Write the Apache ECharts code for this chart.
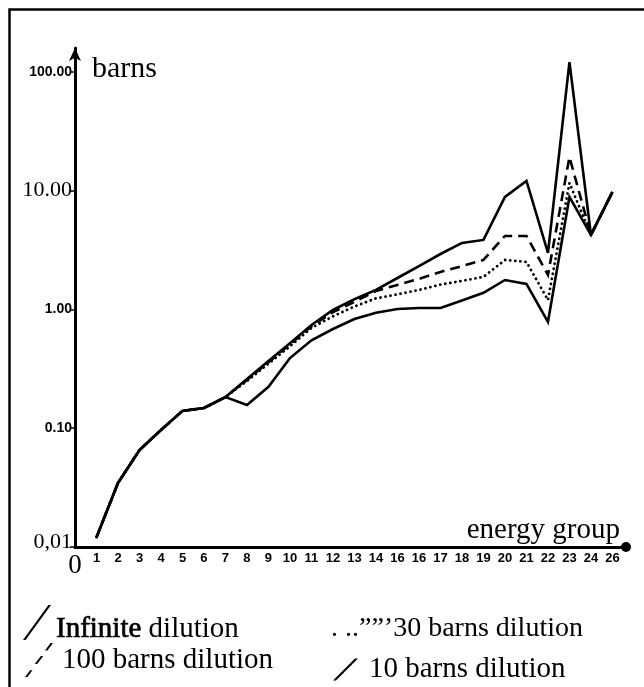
<!DOCTYPE html>
<html>
<head>
<meta charset="utf-8">
<script src="https://cdn.jsdelivr.net/npm/echarts@6/dist/echarts.min.js"></script>
<style>
html,body{margin:0;padding:0;background:#fff;}
#c{width:644px;height:687px;}
</style>
</head>
<body>
<div id="c"></div>
<script>
// energy groups
var groups = [1,2,3,4,5,6,7,8,9,10,11,12,13,14,15,16,17,18,19,20,21,22,23,24,25];
// cross sections (barns)
var infiniteDilution = [0.0121,0.0346,0.0656,0.0967,0.140,0.148,0.183,0.26,0.368,0.52,0.74,0.99,1.22,1.46,1.84,2.32,2.93,3.63,3.85,8.86,12.1,2.99,121,4.24,9.76];
var barns100Dilution = [0.0121,0.0346,0.0656,0.0967,0.140,0.148,0.183,0.255,0.36,0.51,0.72,0.95,1.16,1.43,1.61,1.81,2.07,2.32,2.61,4.16,4.16,1.95,19.2,4.24,9.76];
var barns30Dilution  = [0.0121,0.0346,0.0656,0.0967,0.140,0.148,0.183,0.25,0.35,0.49,0.70,0.875,1.06,1.24,1.34,1.46,1.62,1.74,1.88,2.61,2.51,1.20,11.6,4.24,9.76];
var barns10Dilution  = [0.0121,0.0346,0.0656,0.0967,0.140,0.148,0.183,0.157,0.223,0.39,0.55,0.685,0.83,0.94,1.01,1.03,1.03,1.19,1.38,1.77,1.64,0.785,8.86,4.24,9.76];
// tick labels
var xTickLabels = ['0','1','2','3','4','5','6','7','8','9','10','11','12','13','14','16','16','17','18','19','20','21','22','23','24','26'];
var yTickLabels = ['0,01','0.10','1.00','10.00','100.00'];
var yTickStyles = ['serif','sans','sans','serif','sans'];
var seriesNames = ['Infinite dilution','100 barns dilution','30 barns dilution','10 barns dilution'];

function pairs(vals){ return groups.map(function(g,i){ return [g, vals[i]]; }); }

var chart = echarts.init(document.getElementById('c'), null, {renderer:'canvas'});

var slashSolid = 'path://M0,35 L2.6,35 L28,0 L25.4,0 Z';
var slashDashed = 'path://M0,37 L2.6,37 L8.2,29.6 L5.6,29.6 Z M10.6,22.9 L13.2,22.9 L19.9,14.1 L17.3,14.1 Z M21.8,8.1 L24.4,8.1 L30.5,0 L27.9,0 Z';
var slashShort = 'path://M0,22 L3,22 L25,0 L22,0 Z';

var legendText = {fontFamily:'Liberation Serif', fontSize:29, color:'#000'};

var lineBase = {color:'#000', width:2.6, join:'miter', miterLimit:3};

chart.setOption({
  animation:false,
  backgroundColor:'#fff',
  grid:{left:75, right:18, top:48, bottom:140, containLabel:false},
  xAxis:{
    type:'value', min:0, max:25.63, interval:1,
    name:'energy group', nameLocation:'end', nameGap:-6,
    nameTextStyle:{fontFamily:'Liberation Serif', fontSize:29, color:'#000', align:'right', verticalAlign:'bottom', padding:[0,0,2,0]},
    axisLine:{show:true, onZero:false, lineStyle:{color:'#000', width:3}, symbol:['none','circle'], symbolSize:[10,10]},
    axisTick:{show:false},
    splitLine:{show:false},
    axisLabel:{
      show:true, margin:5, color:'#000', showMaxLabel:false,
      fontFamily:'Liberation Sans', fontWeight:'bold', fontSize:13,
      formatter:function(v){
        var i = Math.round(v);
        if (Math.abs(v-i) > 1e-6 || i < 0 || i >= xTickLabels.length) return '';
        if (i === 0) return '{z|' + xTickLabels[0] + '}';
        return xTickLabels[i];
      },
      rich:{z:{fontFamily:'Liberation Serif', fontWeight:'normal', fontSize:27, color:'#000', padding:[0,0,0,0]}}
    }
  },
  yAxis:{
    type:'log', logBase:10, min:0.01, max:159,
    name:'barns', nameLocation:'end', nameGap:-36,
    nameTextStyle:{fontFamily:'Liberation Serif', fontSize:30, color:'#000', align:'left', verticalAlign:'bottom', padding:[0,0,0,17]},
    axisLine:{show:true, onZero:false, lineStyle:{color:'#000', width:3}, symbol:['none','arrow'], symbolSize:[9,13]},
    axisTick:{show:true, length:5, lineStyle:{color:'#000', width:1.5}},
    minorTick:{show:false},
    splitLine:{show:false},
    axisLabel:{
      show:true, margin:3, color:'#000', showMaxLabel:false,
      formatter:function(v){
        var l = Math.log(v)/Math.LN10;
        var e = Math.round(l);
        if (Math.abs(l-e) > 1e-6) return '';
        var i = e + 2;
        if (i < 0 || i >= yTickLabels.length) return '';
        return '{' + yTickStyles[i] + (i===0 ? '0' : '') + '|' + yTickLabels[i] + '}';
      },
      rich:{
        sans:{fontFamily:'Liberation Sans', fontWeight:'bold', fontSize:14, color:'#000'},
        serif:{fontFamily:'Liberation Serif', fontSize:22, color:'#000'},
        serif0:{fontFamily:'Liberation Serif', fontSize:22, color:'#000', padding:[0,0,10,0]}
      }
    }
  },
  legend:[
    {show:true, selectedMode:false, left:18, top:600, orient:'horizontal', itemWidth:28, itemHeight:35,
     itemStyle:{color:'#000', borderWidth:0},
     data:[{name:seriesNames[0], icon:slashSolid}],
     formatter:function(n){ return '{b|Infinite} dilution'; },
     textStyle:Object.assign({}, legendText, {padding:[14,0,0,0], rich:{b:{fontFamily:'Liberation Serif', fontSize:29, color:'#000', textBorderColor:'#000', textBorderWidth:0.7}}})},
    {show:true, selectedMode:false, left:20, top:638, orient:'horizontal', itemWidth:28, itemHeight:37,
     itemStyle:{color:'#000', borderWidth:0},
     data:[{name:seriesNames[1], icon:slashDashed}],
     textStyle:Object.assign({}, legendText, {padding:[14,0,0,4]})},
    {show:true, selectedMode:false, left:320, top:610, orient:'horizontal', itemWidth:1, itemHeight:1,
     itemStyle:{color:'rgba(0,0,0,0)', borderWidth:0},
     data:[{name:seriesNames[2], icon:'rect'}],
     formatter:function(n){ return '. ..\u201d\u201d\u2019' + n; },
     textStyle:Object.assign({}, legendText, {fontSize:28})},
    {show:true, selectedMode:false, left:328, top:650, orient:'horizontal', itemWidth:25, itemHeight:22,
     itemStyle:{color:'#000', borderWidth:0},
     data:[{name:seriesNames[3], icon:slashShort}],
     textStyle:Object.assign({}, legendText, {padding:[0,0,6,6]})}
  ],
  graphic:[
    {type:'rect', left:7, top:7, shape:{x:0, y:0, width:660, height:700}, style:{fill:'none', stroke:'#000', lineWidth:2.5}, silent:true, z:-1}
  ],
  series:[
    {name:seriesNames[0], type:'line', symbol:'none', data:pairs(infiniteDilution), lineStyle:Object.assign({}, lineBase), z:5},
    {name:seriesNames[1], type:'line', symbol:'none', data:pairs(barns100Dilution), lineStyle:Object.assign({}, lineBase, {type:[10,6]}), z:4},
    {name:seriesNames[2], type:'line', symbol:'none', data:pairs(barns30Dilution), lineStyle:Object.assign({}, lineBase, {type:[0.1,5], cap:'round', width:2.8}), z:3},
    {name:seriesNames[3], type:'line', symbol:'none', data:pairs(barns10Dilution), lineStyle:Object.assign({}, lineBase), z:2}
  ]
});
</script>
</body>
</html>
